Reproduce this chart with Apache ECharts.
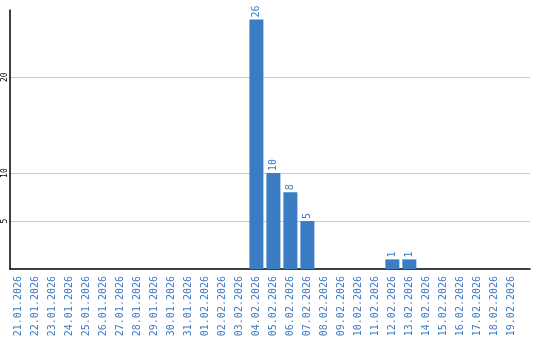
<!DOCTYPE html>
<html><head><meta charset="utf-8">
<script src="https://cdn.jsdelivr.net/npm/echarts@6/dist/echarts.min.js"></script>
<style>html,body{margin:0;padding:0;background:#fff}#c{width:540px;height:340px}</style>
</head><body><div id="c"></div>
<script>
const categories = ["21.01.2026","22.01.2026","23.01.2026","24.01.2026","25.01.2026","26.01.2026","27.01.2026","28.01.2026","29.01.2026","30.01.2026","31.01.2026","01.02.2026","02.02.2026","03.02.2026","04.02.2026","05.02.2026","06.02.2026","07.02.2026","08.02.2026","09.02.2026","10.02.2026","11.02.2026","12.02.2026","13.02.2026","14.02.2026","15.02.2026","16.02.2026","17.02.2026","18.02.2026","19.02.2026"];
const values = [0,0,0,0,0,0,0,0,0,0,0,0,0,0,26,10,8,5,0,0,0,0,1,1,0,0,0,0,0,0];
const yTicks = [5,10,20];

const idx = categories.map((c,i)=>i);
const chart = echarts.init(document.getElementById('c'), null, {renderer:'canvas'});
chart.setOption({
  animation:false,
  grid:{left:10, right:10, top:10, bottom:71, containLabel:false, outerBoundsMode:'none'},
  xAxis:{
    type:'value', min:-0.5, max:categories.length+0.1,
    axisLine:{show:true, onZero:false, lineStyle:{color:'#000', width:1.5}},
    axisTick:{show:false, customValues: idx},
    splitLine:{show:false},
    axisLabel:{customValues: idx, rotate:90, margin:7, color:'#3a7bc4',
      fontFamily:'DejaVu Sans Mono', fontSize:10,
      formatter: v => categories[Math.round(v)] || ''}
  },
  yAxis:{
    type:'value', min:0, max:27,
    axisLine:{show:true, onZero:false, lineStyle:{color:'#000', width:1.5}},
    axisTick:{show:false, customValues:yTicks},
    axisLabel:{customValues:yTicks, rotate:90, margin:1, color:'#000', fontFamily:'DejaVu Sans Mono', fontSize:8},
    splitLine:{show:true, lineStyle:{color:'#c8c8c8', width:1}}
  },
  series:[{
    type:'bar', barWidth:14,
    data: values.map((v,i)=>[i,v]),
    itemStyle:{color:'#3b7dc4'},
    label:{show:true, position:'top', rotate:90, align:'left', verticalAlign:'middle', distance:2,
      color:'#3a7bc4', fontFamily:'DejaVu Sans Mono', fontSize:10,
      formatter: p => p.value[1] ? String(p.value[1]) : ''}
  }]
});
</script></body></html>
